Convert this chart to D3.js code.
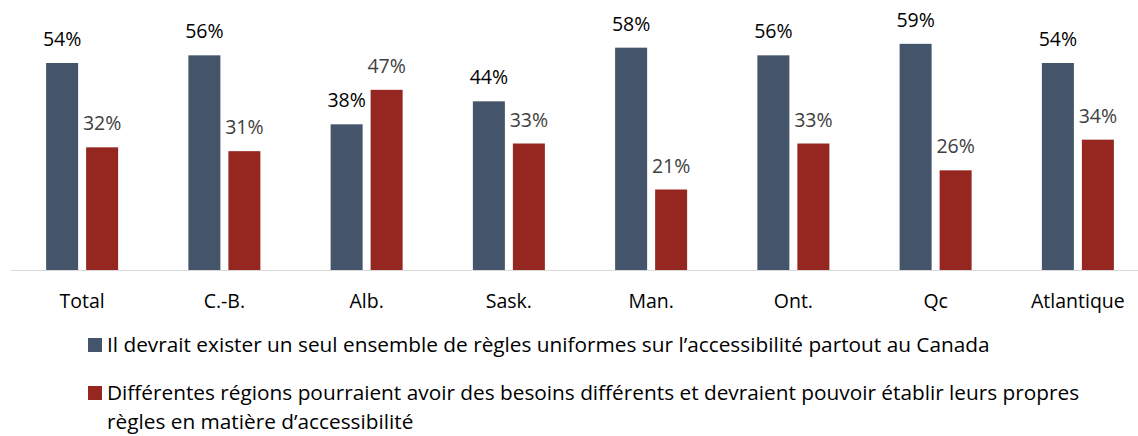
<!DOCTYPE html>
<html>
<head>
<meta charset="utf-8">
<script src="https://cdn.jsdelivr.net/npm/d3@7"></script>
<style>
  body { margin: 0; background: #fff; }
  svg { display: block; font-family: "Open Sans", sans-serif; }
</style>
</head>
<body>
<div id="chart"></div>
<script>
// data
var categories = ["Total", "C.-B.", "Alb.", "Sask.", "Man.", "Ont.", "Qc", "Atlantique"];
var seriesNames = [
  "Il devrait exister un seul ensemble de règles uniformes sur l’accessibilité partout au Canada",
  "Différentes régions pourraient avoir des besoins différents et devraient pouvoir établir leurs propres règles en matière d’accessibilité"
];
var uniformValues = [54, 56, 38, 44, 58, 56, 59, 54];
var regionalValues = [32, 31, 47, 33, 21, 33, 26, 34];
var seriesColors = ["#44546A", "#962620"];
var labelColors = ["#000000", "#404040"];

var width = 1138, height = 436;
var baseY = 270;

var svg = d3.select("#chart").append("svg").attr("width", width).attr("height", height);

var x0 = d3.scaleBand().domain(categories).range([11, 1149]).padding(0);
var x1 = d3.scaleBand().domain([0, 1]).range([0, 72]).paddingInner(0.2);
var y = d3.scaleLinear().domain([0, 60]).range([baseY, 40]);

var rows = categories.map(function(c, i) {
  return { cat: c, vals: [uniformValues[i], regionalValues[i]] };
});

// axis line
svg.append("line")
  .attr("x1", 11).attr("x2", width)
  .attr("y1", baseY + 0.5).attr("y2", baseY + 0.5)
  .attr("stroke", "#d9d9d9").attr("stroke-width", 1);

var groups = svg.selectAll("g.grp").data(rows).enter().append("g")
  .attr("class", "grp")
  .attr("transform", function(d) { return "translate(" + (x0(d.cat) + (x0.bandwidth() - 72) / 2) + ",0)"; });

groups.selectAll("rect").data(function(d) { return d.vals; }).enter().append("rect")
  .attr("x", function(d, i) { return x1(i); })
  .attr("width", x1.bandwidth())
  .attr("y", function(d) { return y(d); })
  .attr("height", function(d) { return baseY - y(d); })
  .attr("fill", function(d, i) { return seriesColors[i]; });

groups.selectAll("text.val").data(function(d) { return d.vals; }).enter().append("text")
  .attr("class", "val")
  .attr("x", function(d, i) { return x1(i) + x1.bandwidth() / 2; })
  .attr("y", function(d) { return y(d) - 17; })
  .attr("text-anchor", "middle")
  .attr("font-size", 19.5)
  .attr("fill", function(d, i) { return labelColors[i]; })
  .text(function(d) { return d + "%"; });

// category labels
var xAxis = d3.axisBottom(x0).tickSize(0).tickPadding(0);
var axisG = svg.append("g").attr("transform", "translate(0," + baseY + ")").call(xAxis);
axisG.select(".domain").remove();
axisG.selectAll("text")
  .attr("y", 38).attr("dy", null)
  .attr("font-size", 19.5).attr("font-family", "Open Sans, sans-serif")
  .attr("fill", "#000");

// legend - one text element per wrapped line
var legendTop = [352, 400];
var lineH = 28.5;
seriesNames.forEach(function(name, i) {
  svg.append("rect")
    .attr("x", 88).attr("y", legendTop[i] - 14)
    .attr("width", 14).attr("height", 14)
    .attr("fill", seriesColors[i]);
  var ly = legendTop[i];
  var newLine = function() {
    var t = svg.append("text")
      .attr("x", 107).attr("y", ly)
      .attr("font-size", 20.8).attr("fill", "#000");
    ly += lineH;
    return t;
  };
  var words = name.split(" ");
  var line = [];
  var t = newLine();
  words.forEach(function(w) {
    line.push(w);
    t.text(line.join(" "));
    if (t.node().getComputedTextLength() > 990 && line.length > 1) {
      line.pop();
      t.text(line.join(" "));
      line = [w];
      t = newLine().text(w);
    }
  });
});
</script>
</body>
</html>
